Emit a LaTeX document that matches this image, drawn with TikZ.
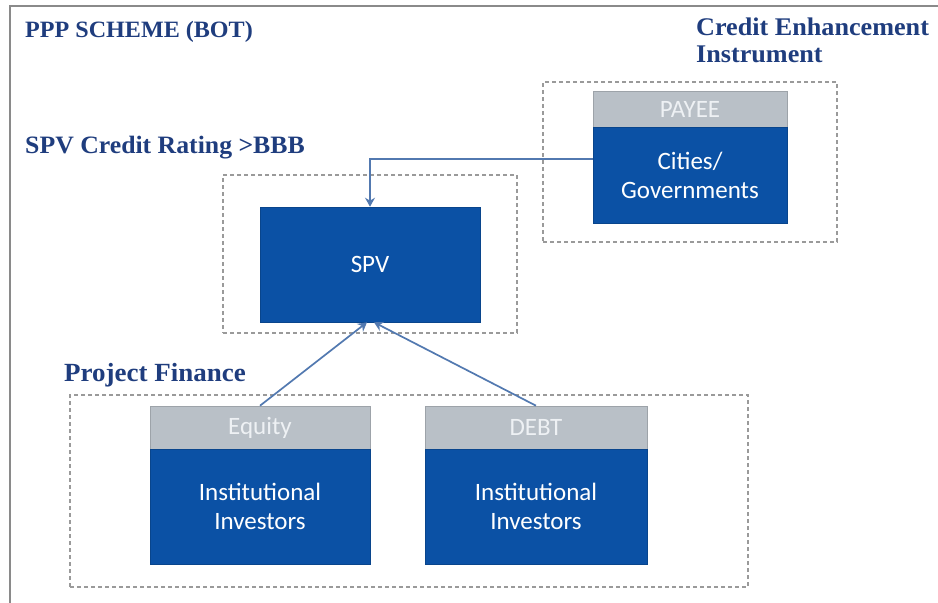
\documentclass[tikz,border=0pt]{standalone}
\usepackage{fontspec}
\usetikzlibrary{arrows.meta,calc}
\newfontfamily\headfont{Liberation Serif}[FakeStretch=1.03]
\newfontfamily\boxfont{Carlito}
\definecolor{navy}{HTML}{1F3D7E}
\definecolor{boxblue}{HTML}{0B51A5}
\definecolor{hdrgray}{HTML}{B9C0C7}
\definecolor{hdrtext}{HTML}{EEF1F4}
\definecolor{connblue}{HTML}{5279B0}
\definecolor{dashgray}{HTML}{9A9A9A}
\definecolor{framegray}{HTML}{8A8A8A}
\tikzset{
  heading/.style={inner sep=0pt, text=navy, font=\headfont\bfseries},
  hdrbox/.style={draw=hdrgray!85!black, line width=0.6pt, fill=hdrgray, text=hdrtext, inner sep=0pt,
    font=\boxfont\fontsize{25}{28}\selectfont},
  bodybox/.style={draw=boxblue!85!black, line width=0.6pt, fill=boxblue, text=white, inner sep=0pt, align=center,
    font=\boxfont\fontsize{25}{29}\selectfont},
  groupbox/.style={draw=dashgray, line width=1.3pt, dash pattern=on 4pt off 3pt, inner sep=0pt},
  conn/.style={draw=connblue, line width=1.7pt, -{Stealth[length=9pt,width=10pt,inset=3pt]}}
}
\begin{document}
\begin{tikzpicture}[x=1pt,y=-1pt]
\useasboundingbox (0,0) rectangle (938,603);
\fill[white] (0,0) rectangle (938,603);
% outer frame
\draw[framegray, line width=2pt] (10,610) -- (10,6) -- (945,6);
% headings
\node[heading, anchor=base west, font=\headfont\bfseries\fontsize{23.4}{27}\selectfont] (title) at (25,37) {PPP SCHEME (BOT)};
\node[heading, anchor=west, align=left, font=\headfont\bfseries\fontsize{25.4}{27}\selectfont] (ceinst) at (696,40) {Credit Enhancement\\Instrument};
\node[heading, anchor=base west, font=\headfont\bfseries\fontsize{25}{27}\selectfont] (spvrating) at (25,153) {SPV Credit Rating >BBB};
\node[heading, anchor=base west, font=\headfont\bfseries\fontsize{26.2}{27}\selectfont] (projfin) at (64,381) {Project Finance};
% group frames
\node[groupbox, minimum width=294pt, minimum height=160pt] (grpce) at (690,162) {};
\node[groupbox, minimum width=294pt, minimum height=158pt] (grpspv) at (370,254) {};
\node[groupbox, minimum width=678pt, minimum height=192pt] (grppf) at (409,491) {};
% boxes
\node[hdrbox, minimum width=194pt, minimum height=36pt] (payeeH) at (690,109) {PAYEE};
\node[bodybox, minimum width=194pt, minimum height=96pt] (payee) at (690,175) {Cities/\\Governments};
\node[bodybox, minimum width=220pt, minimum height=115pt] (spv) at (370,264.5) {SPV};
\node[hdrbox, minimum width=220pt, minimum height=43pt] (eqH) at (260,427.5) {Equity};
\node[bodybox, minimum width=220pt, minimum height=115pt] (eq) at (260,506.5) {Institutional\\Investors};
\node[hdrbox, minimum width=222pt, minimum height=43pt] (debtH) at (536,427.5) {DEBT};
\node[bodybox, minimum width=222pt, minimum height=115pt] (debt) at (536,506.5) {Institutional\\Investors};
% connectors
\coordinate (payout) at ($(payee.west)+(0,-16)$);
\draw[conn] (payout) -| (spv.north);
\draw[conn] (eqH.north) -- ($(spv.south)+(-3,0)$);
\draw[conn] (debtH.north) -- ($(spv.south)+(4,0)$);
\end{tikzpicture}
\end{document}
